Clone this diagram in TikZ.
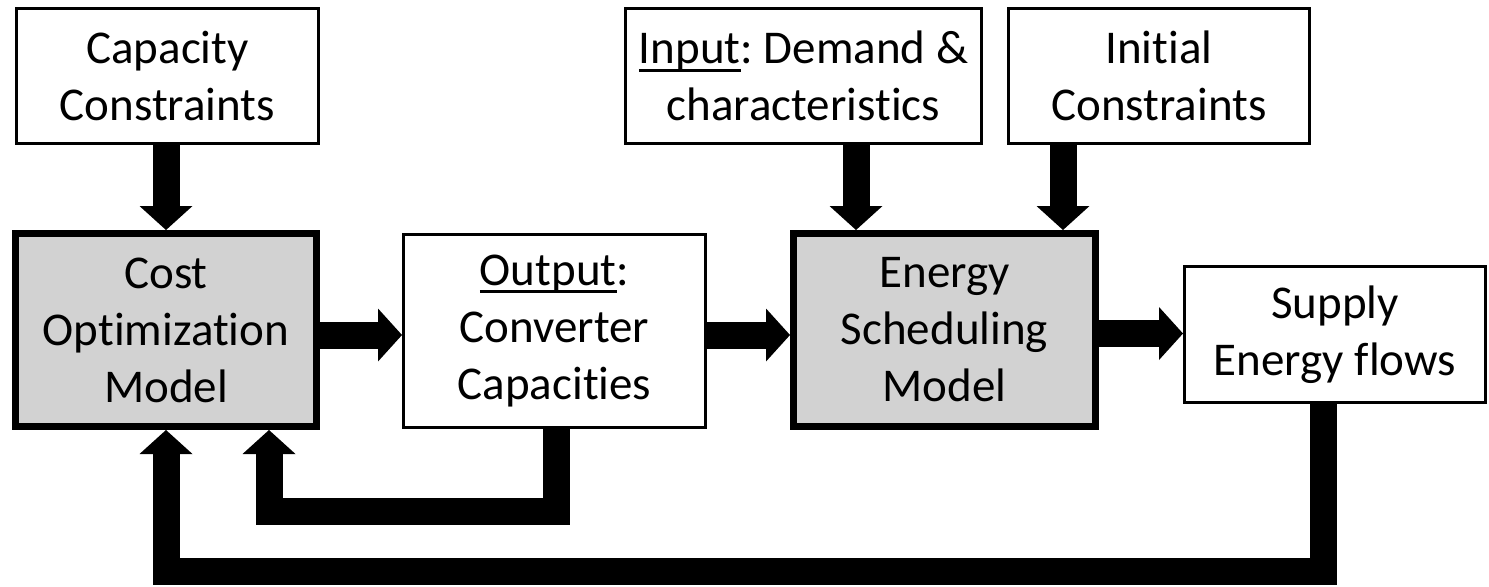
\documentclass[tikz,border=0pt]{standalone}
\usepackage{fontspec}
\setmainfont{Carlito}[Ligatures=NoCommon]
\usetikzlibrary{arrows.meta}
\definecolor{modelgray}{RGB}{210,210,210}
% underline that sits just under the baseline, as word processors draw it
\newcommand\ulword[1]{\setbox0\hbox{#1}\rlap{\rule[-4pt]{\wd0}{1.5pt}}\box0}
\frenchspacing
\begin{document}
\begin{tikzpicture}[x=0.5pt,y=-0.5pt,
  box/.style={draw=black, line width=1.5pt, fill=white, inner sep=0pt,
    align=center, font=\fontsize{23.5}{28.5}\selectfont},
  model/.style={box, line width=3.5pt, fill=modelgray},
  flow/.style={draw=black, line width=13.5pt, line join=miter,
    -{Triangle[width=26.5pt,length=12pt,line width=0pt]}}
]
\useasboundingbox (0,0) rectangle (1489,586);

% boxes
\node[box, minimum width=151pt, minimum height=67.5pt] (cap) at (167.5,76)
  {Capacity\\Constraints};
\node[model, minimum width=150.5pt, minimum height=96.5pt] (cost) at (166,330)
  {Cost\\Optimization\\Model};
\node[box, minimum width=151pt, minimum height=96.5pt] (out) at (554.5,331)
  {\ulword{Output}:\\Converter\\Capacities};
\node[box, minimum width=178pt, minimum height=67.5pt] (inp) at (803.5,76)
  {\ulword{Input}: Demand \&\\characteristics};
\node[box, minimum width=150.5pt, minimum height=67.5pt] (ini) at (1159,76)
  {Initial\\Constraints};
\node[model, minimum width=151pt, minimum height=96.5pt] (ene) at (944.5,330)
  {Energy\\Scheduling\\Model};
\node[box, minimum width=150.5pt, minimum height=68pt] (sup) at (1335,334.5)
  {Supply\\Energy flows};

% guide coordinates for the connector lanes
\coordinate (h1) at (0,335);
\coordinate (h2) at (0,333.5);
\coordinate (v1) at (856,0);
\coordinate (v2) at (1063,0);
\coordinate (f1) at (556,511);
\coordinate (f2) at (269,511);
\coordinate (b1) at (1323,571);
\coordinate (b2) at (166,571);

% forward flow
\draw[flow] (cost.north |- cap.south) -- (cost.north);
\draw[flow] (cost.east |- h1) -- (out.west |- h1);
\draw[flow] (out.east |- h1) -- (ene.west |- h1);
\draw[flow] (inp.south -| v1) -- (ene.north -| v1);
\draw[flow] (ini.south -| v2) -- (ene.north -| v2);
\draw[flow] (ene.east |- h2) -- (sup.west |- h2);

% feedback loops
\draw[flow] (out.south -| f1) -- (f1) -- (f2) -- (f2 |- cost.south);
\draw[flow] (sup.south -| b1) -- (b1) -- (b2) -- (cost.south);
\end{tikzpicture}
\end{document}
